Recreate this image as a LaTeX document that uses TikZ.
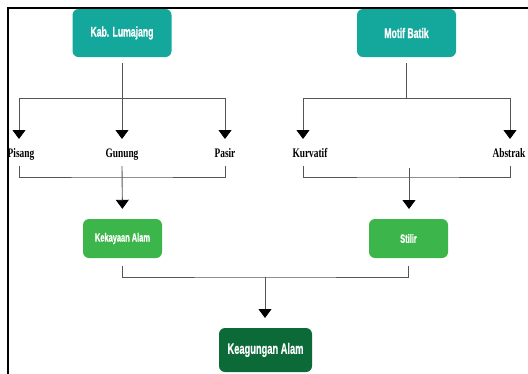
\documentclass[tikz,border=0pt]{standalone}
\usepackage{fontspec}
\setmainfont{Liberation Serif}
\newfontfamily\boxfont[FakeStretch=0.62,FakeBold=0.6]{Liberation Sans Bold}
\newfontfamily\labfont[FakeStretch=0.72]{Liberation Serif Bold}
\usetikzlibrary{arrows.meta}
\definecolor{tealbox}{HTML}{14A89C}
\definecolor{greenbox}{HTML}{3CB64B}
\definecolor{darkbox}{HTML}{0B6A37}
\definecolor{linegray}{HTML}{555555}
\begin{document}
\begin{tikzpicture}[x=1pt,y=-1pt,
 box/.style={rounded corners=6pt, text=white, inner sep=0pt,
   font=\boxfont\fontsize{14}{16}\selectfont},
 bigbox/.style={box, minimum width=99pt, minimum height=48pt},
 midbox/.style={box, minimum width=79pt, minimum height=39pt,
   font=\boxfont\fontsize{12}{14}\selectfont},
 lab/.style={font=\labfont\fontsize{13}{15}\selectfont, inner sep=0pt, anchor=base},
 conn/.style={draw=linegray, line width=0.9pt},
 arr/.style={conn, -{Triangle[width=13pt,length=9pt,color=black,fill=black]}}
]
\useasboundingbox (0,0) rectangle (528,373);
\fill[white] (0,0) rectangle (528,373);
% frame
\coordinate (fBL) at (8,380);
\coordinate (fTL) at (8,8);
\coordinate (fTR) at (535,8);
\draw[line width=2pt] (fBL) -- (fTL) -- (fTR);

% top boxes
\node[bigbox, fill=tealbox] (kab) at (122,33) {Kab. Lumajang};
\node[bigbox, fill=tealbox] (motif) at (406.5,33) {Motif Batik};

% labels
\node[lab] (pisang) at (21,157) {Pisang};
\node[lab] (gunung) at (122,157) {Gunung};
\node[lab] (pasir) at (225,157) {Pasir};
\node[lab] (kurvatif) at (310,157) {Kurvatif};
\node[lab] (abstrak) at (509,157) {Abstrak};

% middle boxes
\node[midbox, fill=greenbox] (kek) at (122.5,238.5) {Kekayaan Alam};
\node[midbox, fill=greenbox] (stilir) at (408.5,238.5) {Stilir};

% bottom box
\node[box, fill=darkbox, minimum width=93pt, minimum height=44pt,
  font=\boxfont\fontsize{15}{17}\selectfont] (keag) at (265.5,350) {Keagungan Alam};

% left tree
\coordinate (hL) at (122,98);
\coordinate (tP) at (19,139);
\coordinate (tG) at (122,139);
\coordinate (tPa) at (225,139);
\draw[arr, shorten <=6pt] (kab.south) -- (tG);
\draw[arr] (hL) -| (tP);
\draw[arr] (hL) -| (tPa);

% right tree
\coordinate (hR) at (406.5,98);
\coordinate (tK) at (303,139);
\coordinate (tA) at (510,139);
\draw[conn, shorten <=6pt] (motif.south) -- (hR);
\draw[arr] (hR) -| (tK);
\draw[arr] (hR) -| (tA);

% left bracket
\coordinate (bP) at (19,166);
\coordinate (bPa) at (225,166);
\coordinate (bL) at (122,177);
\coordinate (bG) at (122,166);
\draw[conn] (bP) |- (bL) -| (bPa);
\draw[arr, shorten >=10pt] (bG) -- (kek.north);

% right bracket
\coordinate (bK) at (303,166);
\coordinate (bA) at (510,166);
\coordinate (bR) at (409,177);
\coordinate (bS) at (409,168);
\coordinate (tS) at (409,209);
\draw[conn] (bK) |- (bR) -| (bA);
\draw[arr] (bS) -- (tS);

% bottom bracket
\coordinate (kB) at (122,266);
\coordinate (sB) at (408,266);
\coordinate (mB) at (265,277);
\coordinate (tKe) at (265,318);
\draw[conn] (kB) |- (mB) -| (sB);
\draw[arr] (mB) -- (tKe);
\end{tikzpicture}
\end{document}
